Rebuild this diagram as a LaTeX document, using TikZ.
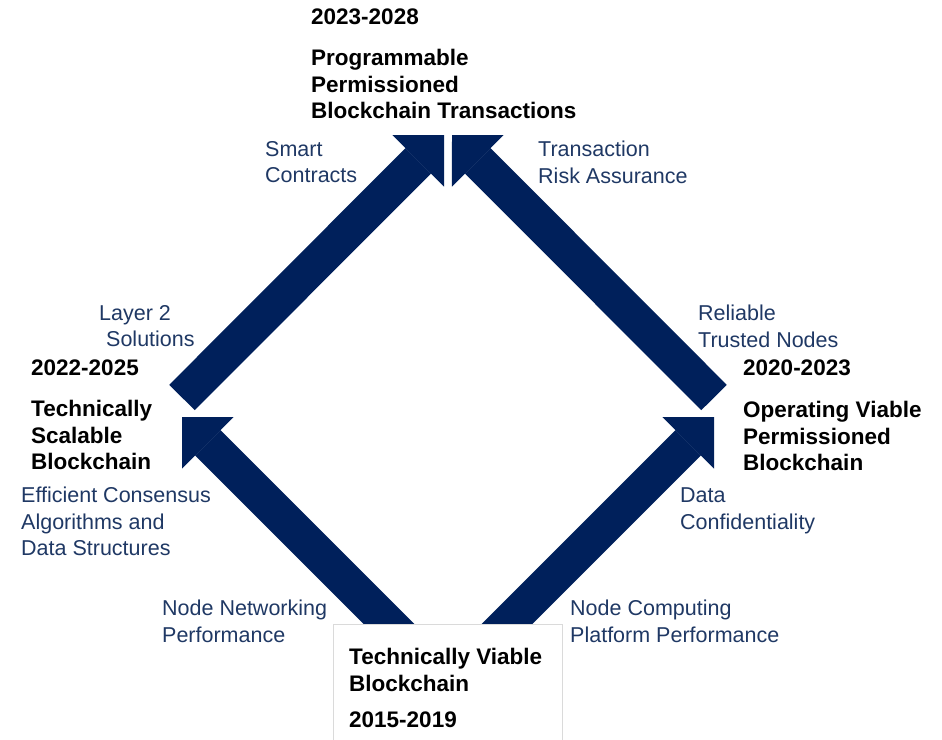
\documentclass[tikz,border=0pt]{standalone}
\usepackage{fontspec}
\setmainfont{Liberation Sans}
\usetikzlibrary{arrows.meta}

\definecolor{roadblue}{RGB}{0,32,91}
\definecolor{labelblue}{RGB}{31,56,100}
\definecolor{boxgray}{RGB}{218,218,218}

\begin{document}
\begin{tikzpicture}[x=1pt,y=-1pt]

      \useasboundingbox (0,0) rectangle (942,739);

      % arrow ends
      \coordinate (viable-l) at (412,647);
      \coordinate (viable-r) at (484,647);
      \coordinate (scalable-in) at (182,417);
      \coordinate (scalable-out) at (182,397.5);
      \coordinate (operating-in) at (714,417);
      \coordinate (operating-out) at (714,397.5);
      \coordinate (prog-l) at (444,135);
      \coordinate (prog-r) at (452,135);

      \begin{scope}[every edge/.style={draw=roadblue,line width=36pt,
          -{Triangle[length=36.5pt,width=73pt,line width=0pt]}}]
        \path (viable-l) edge (scalable-in);
        \path (viable-r) edge (operating-in);
        \path (scalable-out) edge (prog-l);
        \path (operating-out) edge (prog-r);
      \end{scope}

      \node[draw=boxgray,fill=white,line width=1pt,anchor=north west,
        minimum width=229pt,minimum height=140pt] (viablebox) at (333,624) {};

      \begin{scope}[every node/.style={anchor=north west,inner sep=0pt,align=left,
          font=\fontsize{22.5}{26.5}\selectfont\bfseries}]
        \node (progyear) at (311,9) {2023-2028};
        \node (prog) at (311,49) {Programmable\\Permissioned\\Blockchain Transactions};
        \node (scalableyear) at (31,360) {2022-2025};
        \node (scalable) at (31,400) {Technically\\Scalable\\Blockchain};
        \node (operatingyear) at (743,360) {2020-2023};
        \node (operating) at (743,401) {Operating Viable\\Permissioned\\Blockchain};
        \node (viable) at (349,648) {Technically Viable\\Blockchain};
        \node (viableyear) at (349,712) {2015-2019};
      \end{scope}

      \begin{scope}[every node/.style={anchor=north west,inner sep=0pt,align=left,
          text=labelblue,font=\fontsize{21.5}{26.5}\selectfont}]
        \node (smart) at (265,141) {Smart\\Contracts};
        \node (risk) at (538,141) {Transaction\\Risk Assurance};
        \node (layer) at (99,305) {Layer 2\\\hspace*{7pt}Solutions};
        \node (trusted) at (698,305) {Reliable\\Trusted Nodes};
        \node (consensus) at (21,487) {Efficient Consensus\\Algorithms and\\Data Structures};
        \node (confidential) at (680,488) {Data\\Confidentiality};
        \node (networking) at (162,600) {Node Networking\\Performance};
        \node (computing) at (570,600) {Node Computing\\Platform Performance};
      \end{scope}

    \end{tikzpicture}
\end{document}
